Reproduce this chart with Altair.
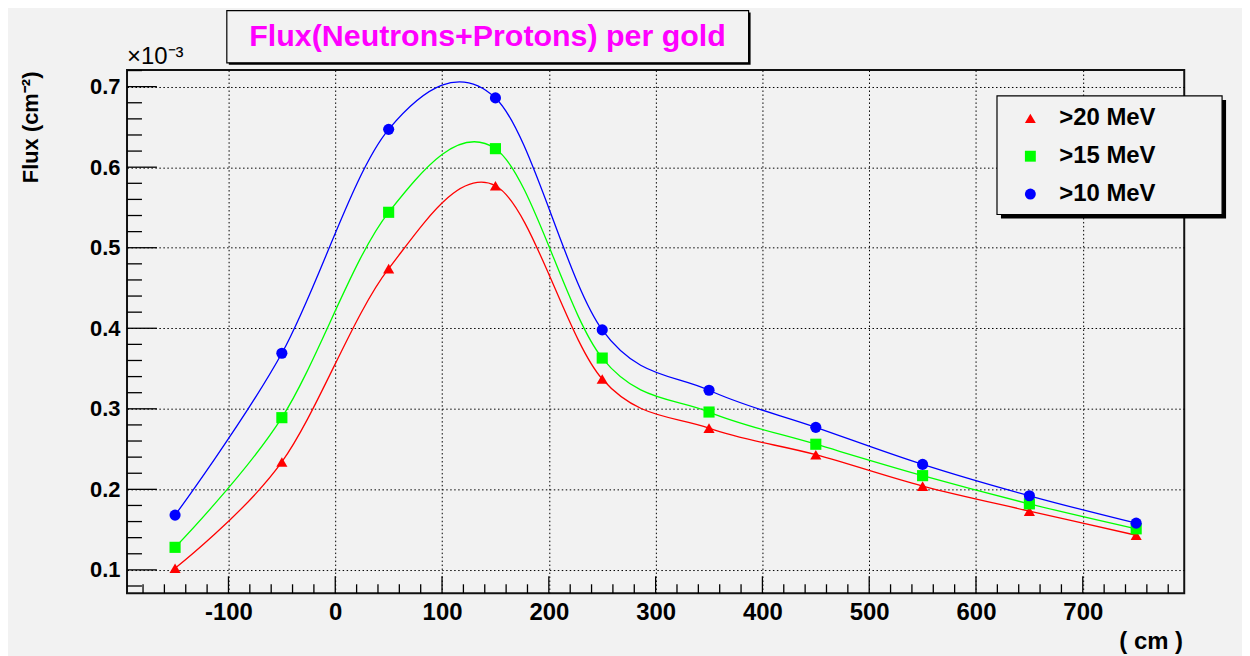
import altair as alt
import pandas as pd

# ---- data (flux in units of 1e-3 cm^-2) ----
positions = [-150, -50, 50, 150, 250, 350, 450, 550, 650, 750]
flux_gt20 = [0.102, 0.234, 0.474, 0.577, 0.337, 0.276, 0.243, 0.204, 0.173, 0.143]
flux_gt15 = [0.128, 0.289, 0.544, 0.623, 0.363, 0.296, 0.256, 0.217, 0.182, 0.151]
flux_gt10 = [0.168, 0.369, 0.647, 0.686, 0.398, 0.323, 0.277, 0.231, 0.192, 0.158]
series_names = [">20 MeV", ">15 MeV", ">10 MeV"]
series_colors = ["#ff0000", "#00ff00", "#0000ff"]
series_shapes = ["triangle-up", "square", "circle"]

x_major = [-100, 0, 100, 200, 300, 400, 500, 600, 700]
y_major = [0.1, 0.2, 0.3, 0.4, 0.5, 0.6, 0.7]
x_minor = [v for v in range(-180, 800, 20) if v % 100 != 0]
y_minor = [round(0.08 + 0.02 * i, 2) for i in range(33) if (8 + 2 * i) % 10 != 0]

title_text = "Flux(Neutrons+Protons) per gold"
y_title = "Flux (cm⁻²)"
x_title = "( cm )"
exp_text = "×10⁻³"

FONT = "Liberation Sans"
W, H = 1061.5, 525.3
X_DOM = [-195, 795]
Y_DOM = [0.071, 0.7206]

rows = []
for name, vals in zip(series_names, [flux_gt20, flux_gt15, flux_gt10]):
    for xv, yv in zip(positions, vals):
        rows.append({"x": xv, "y": yv, "series": name})
df = pd.DataFrame(rows)

xs = alt.Scale(domain=X_DOM, nice=False, zero=False)
ys = alt.Scale(domain=Y_DOM, nice=False, zero=False)

x_axis = alt.Axis(
    values=x_major, grid=True, gridColor="black", gridDash=[1.5, 2.5], gridWidth=1,
    domain=False, ticks=False, labelPadding=7, labelFont=FONT, labelFontSize=24,
    labelFontWeight="bold", labelColor="black", title=x_title, titleFont=FONT,
    titleFontSize=24, titleFontWeight="bold", titleColor="black",
    titleX=1059.8, titleY=48.7, titleAlign="right", titleBaseline="middle",
    labelFlush=False, labelExpr="replace(datum.label, '\u2212', '-')")
y_axis = alt.Axis(
    values=y_major, format=".1f", grid=True, gridColor="black", gridDash=[1.5, 2.5],
    gridWidth=1, domain=False, ticks=False, labelPadding=7, labelFont=FONT,
    labelFontSize=22, labelFontWeight="bold", labelColor="black", title=y_title,
    titleFont=FONT, titleFontSize=22, titleFontWeight="bold", titleColor="black",
    titleX=-97, titleY=1, titleAngle=270, titleAlign="right", titleBaseline="middle",
    labelFlush=False)

color_scale = alt.Scale(domain=series_names, range=series_colors)
shape_scale = alt.Scale(domain=series_names, range=series_shapes)

legend = alt.Legend(
    orient="none", legendX=895, legendY=36.5, title=None,
    labelFont=FONT, labelFontSize=24, labelFontWeight="bold", labelColor="black",
    rowPadding=14, labelOffset=17, padding=0, symbolSize=120,
    symbolStrokeWidth=0, zindex=5,
)

base = alt.Chart(df)

lines = base.mark_line(interpolate="cardinal", strokeWidth=1.3).encode(
    x=alt.X("x:Q", scale=xs, axis=x_axis),
    y=alt.Y("y:Q", scale=ys, axis=y_axis),
    color=alt.Color("series:N", scale=color_scale, legend=legend, sort=series_names),
    detail="series:N",
)

points = base.mark_point(filled=True, opacity=1, size=125).encode(
    x=alt.X("x:Q", scale=xs, axis=x_axis),
    y=alt.Y("y:Q", scale=ys, axis=y_axis),
    color=alt.Color("series:N", scale=color_scale, legend=legend, sort=series_names),
    shape=alt.Shape("series:N", scale=shape_scale, legend=legend, sort=series_names),
)

# inside ticks (ROOT style)
def xticks(vals, length):
    return alt.Chart(pd.DataFrame({"x": vals})).mark_rule(color="black", strokeWidth=1.3).encode(
        x=alt.X("x:Q", scale=xs, axis=x_axis), y=alt.value(H), y2=alt.value(H - length))

def yticks(vals, length):
    return alt.Chart(pd.DataFrame({"y": vals})).mark_rule(color="black", strokeWidth=1.3).encode(
        y=alt.Y("y:Q", scale=ys, axis=y_axis), x=alt.value(0), x2=alt.value(length))

one = pd.DataFrame({"a": [0]})

def box(x1, x2, y1, y2, fill, stroke=None, sw=0):
    kw = dict(fill=fill)
    if stroke:
        kw.update(stroke=stroke, strokeWidth=sw)
    return alt.Chart(one).mark_rect(**kw).encode(
        x=alt.value(x1), x2=alt.value(x2), y=alt.value(y1), y2=alt.value(y2))

title_shadow = box(102.2, 626.1, -57.7, -5.3, "black")
title_box = box(100.2, 624.1, -59.7, -7.3, "#f2f2f2", "black", 1.2)
title_txt = alt.Chart(one).mark_text(
    font=FONT, fontSize=30.5, fontWeight="bold", color="#ff00ff", align="center", baseline="middle"
).encode(x=alt.value(362), y=alt.value(-33), text=alt.value(title_text))

legend_shadow = box(877.5, 1103.5, 30, 149, "black")
legend_box = box(873.5, 1099.5, 26, 145, "#f2f2f2", "black", 1.2)

exp_lbl = alt.Chart(one).mark_text(
    font=FONT, fontSize=24, color="black", align="left", baseline="alphabetic"
).encode(x=alt.value(0), y=alt.value(-6), text=alt.value(exp_text))

chart = alt.layer(
    legend_shadow, legend_box,
    lines,
    xticks(x_minor, 9), xticks(x_major, 17), yticks(y_minor, 15), yticks(y_major, 30),
    points,
    title_shadow, title_box, title_txt, exp_lbl,
).resolve_scale(x="shared", y="shared").properties(
    width=W, height=H,
    autosize=alt.AutoSizeParams(type="none"),
    padding={"left": 119.5, "top": 61, "right": 58, "bottom": 61.7},
    background="#f2f2f2",
).configure_view(stroke="#111111", strokeWidth=2)

chart.save("out.html", embed_options={"renderer": "svg", "actions": False})
